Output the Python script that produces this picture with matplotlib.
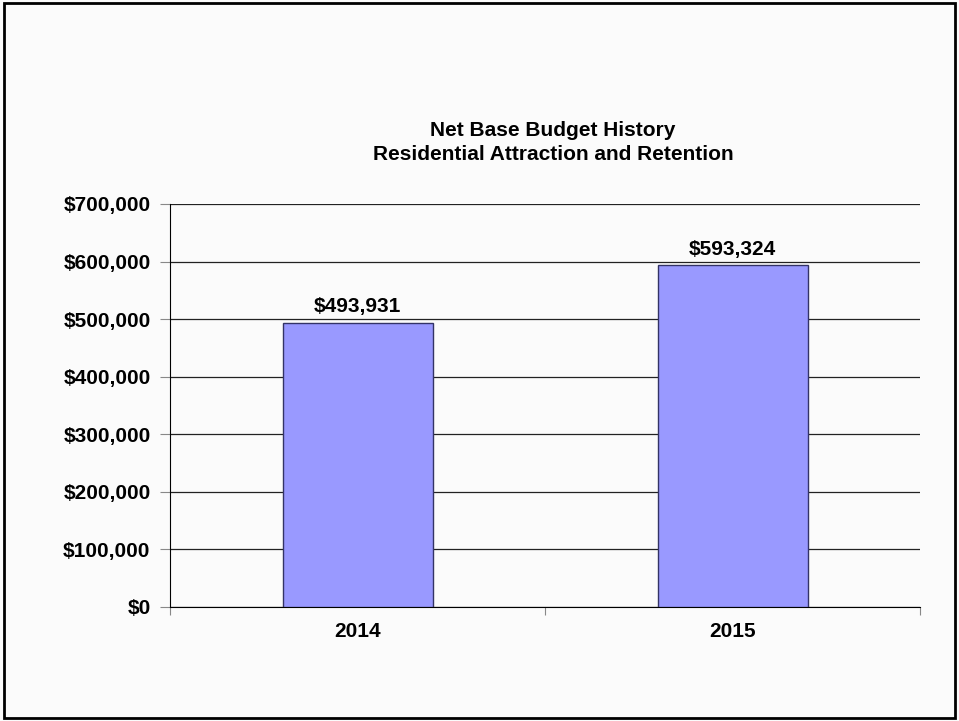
import matplotlib.pyplot as plt
from matplotlib.patches import Rectangle
from matplotlib.ticker import FuncFormatter

years = ['2014', '2015']
budget = [493931, 593324]
y_ticks = [0, 100000, 200000, 300000, 400000, 500000, 600000, 700000]

plt.rcParams['font.family'] = ['Liberation Sans', 'DejaVu Sans']
plt.rcParams['font.weight'] = 'bold'
fs = 15

fig = plt.figure(figsize=(9.59, 7.21), dpi=100, facecolor='#fbfbfb')
# outer frame
fig.patches.append(Rectangle((0.004, 0.004), 0.992, 0.992, transform=fig.transFigure,
                             fill=False, edgecolor='black', linewidth=2))

ax = fig.add_axes([170 / 959, 114 / 721, 750 / 959, 403 / 721])
ax.set_facecolor('#fbfbfb')

x = range(len(years))
bars = ax.bar(x, budget, width=0.4, color='#9999ff', edgecolor='#333366', linewidth=1, zorder=3)
for xi, v in zip(x, budget):
    ax.text(xi, v + 11000, '${:,.0f}'.format(v), ha='center', va='bottom',
            fontsize=fs, fontweight='bold')

ax.set_xlim(-0.5, 1.5)
ax.set_ylim(0, 700000)
ax.set_yticks(y_ticks)
ax.yaxis.set_major_formatter(FuncFormatter(lambda v, p: '${:,.0f}'.format(v)))
ax.yaxis.grid(True, color='#222222', linewidth=0.9, zorder=0)

ax.set_xticks([-0.5, 0.5, 1.5])
ax.set_xticklabels([])
ax.set_xticks(list(x), minor=True)
ax.set_xticklabels(years, minor=True)
ax.tick_params(axis='x', which='major', length=6, color='#888888', direction='out')
ax.tick_params(axis='x', which='minor', length=0, pad=11, labelsize=fs)
ax.tick_params(axis='y', length=7, color='#888888', labelsize=fs, pad=7)

for s in ['top', 'right']:
    ax.spines[s].set_visible(False)
ax.spines['left'].set_color('black')
ax.spines['bottom'].set_color('black')

fig.text(553 / 959, 1 - 131 / 721, 'Net Base Budget History', ha='center', va='center',
         fontsize=fs, fontweight='bold')
fig.text(553 / 959, 1 - 154 / 721, 'Residential Attraction and Retention', ha='center', va='center',
         fontsize=fs, fontweight='bold')

fig.savefig('out.png', dpi=100, facecolor=fig.get_facecolor())
